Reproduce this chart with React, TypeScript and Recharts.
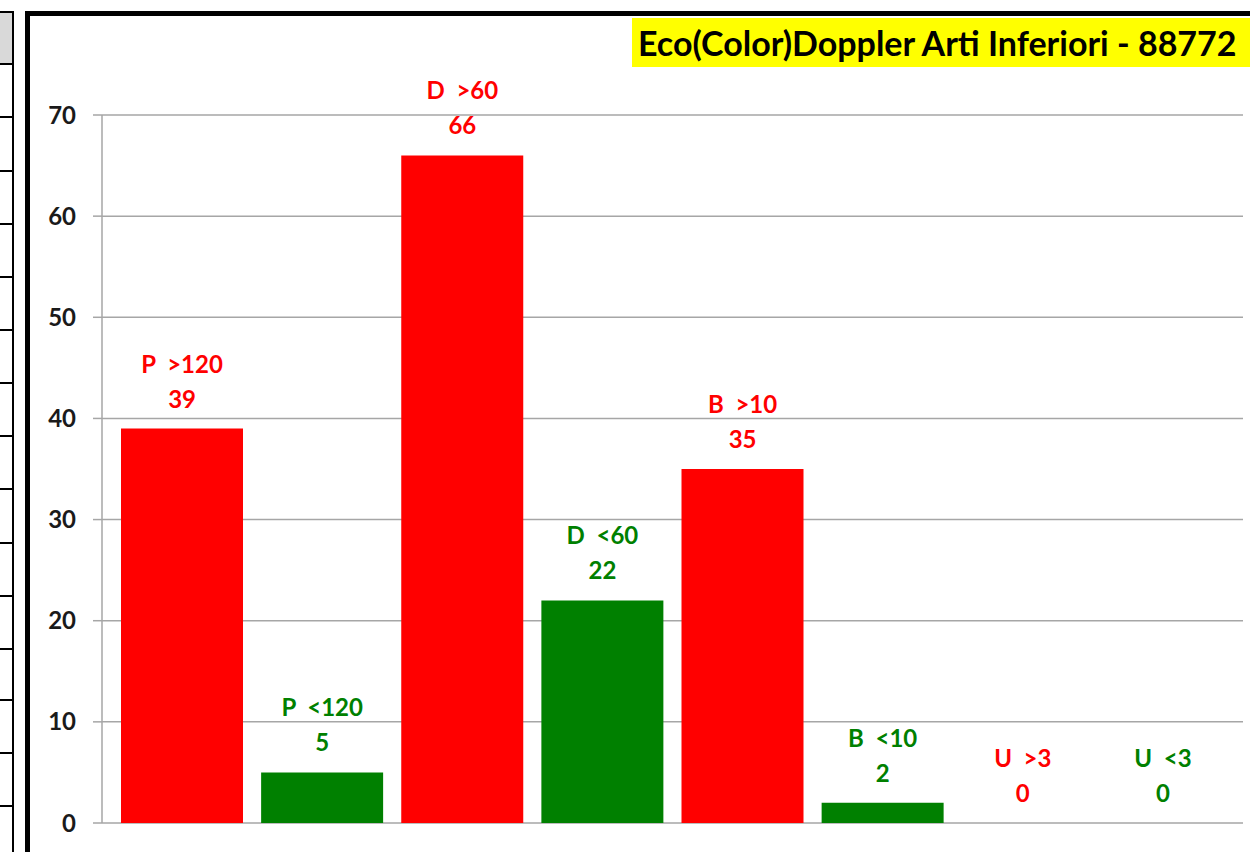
import { ComposedChart, Bar, Line, XAxis, YAxis, CartesianGrid, Cell, LabelList } from 'recharts';

const categories = ['P  >120', 'P  <120', 'D  >60', 'D  <60', 'B  >10', 'B  <10', 'U  >3', 'U  <3'];
const counts = [39, 5, 66, 22, 35, 2, 0, 0];
const overThreshold = [true, false, true, false, true, false, true, false];
const yTicks = [0, 10, 20, 30, 40, 50, 60, 70];
const title = 'Eco(Color)Doppler Arti Inferiori - 88772';

const RED = '#ff0000';
const GREEN = '#008000';
const FONT = 'Lato, "Open Sans", sans-serif';

const data = categories.map((name, i) => ({ name, value: counts[i], over: overThreshold[i] }));

// horizontal rules of the spreadsheet column peeking in on the left
const rowLines = [63, 116, 170, 223, 276, 329, 382, 435, 488, 542, 595, 648, 699, 752, 805];

// two-line label above each bar; drawn from an invisible line series so zero values get one too
const BarLabel = (props: any) => {
  const { x, y, index } = props;
  const d = data[index];
  if (!d) return null;
  const fill = d.over ? RED : GREEN;
  return (
    <g>
      <text x={x} y={Number(y) - 56} textAnchor="middle" fill={fill} fontSize={24} fontWeight={700} fontFamily={FONT} style={{ whiteSpace: 'pre' }}>
        {d.name}
      </text>
      <text x={x} y={Number(y) - 21} textAnchor="middle" fill={fill} fontSize={24} fontWeight={700} fontFamily={FONT}>
        {d.value}
      </text>
    </g>
  );
};

export default function App() {
  return (
    <div style={{ position: 'absolute', left: 0, top: 0, width: 1250, height: 852, overflow: 'hidden', background: '#fff' }}>
      {/* left spreadsheet strip */}
      <div style={{ position: 'absolute', left: 0, top: 11, width: 12, height: 845, borderTop: '2px solid #000', borderRight: '2px solid #000' }}>
        <div style={{ position: 'absolute', left: 0, top: 0, width: 12, height: 50, background: '#d9d9d9' }} />
        {rowLines.map((ly) => (
          <div key={ly} style={{ position: 'absolute', left: 0, top: ly - 13, width: 12, height: 2, background: '#000' }} />
        ))}
      </div>

      <div style={{ position: 'absolute', left: 0, top: 0 }}>
        <ComposedChart
          width={1250}
          height={852}
          data={data}
          margin={{ top: 115, right: 7, bottom: 29, left: 0 }}
        >
          <CartesianGrid horizontal vertical={false} stroke="#a6a6a6" strokeWidth={1.5} />
          <XAxis
            dataKey="name"
            tick={false}
            tickLine={false}
            axisLine={{ stroke: '#a6a6a6', strokeWidth: 1.5 }}
            height={0}
            padding={{ left: 10, right: 10 }}
          />
          <YAxis
            width={102}
            domain={[0, 70]}
            ticks={yTicks}
            interval={0}
            tickSize={9}
            tickMargin={17}
            axisLine={{ stroke: '#a6a6a6', strokeWidth: 1.5 }}
            tickLine={{ stroke: '#a6a6a6', strokeWidth: 1.5 }}
            tick={{ fill: '#1a1a1a', fontSize: 24, fontWeight: 700, fontFamily: FONT }}
          />
          <Bar dataKey="value" barSize={122} isAnimationActive={false}>
            {data.map((d, i) => (
              <Cell key={i} fill={d.over ? RED : GREEN} />
            ))}
          </Bar>
          <Line dataKey="value" stroke="none" dot={false} activeDot={false} isAnimationActive={false}>
            <LabelList dataKey="value" content={BarLabel} />
          </Line>
        </ComposedChart>
      </div>

      {/* chart frame */}
      <div style={{ position: 'absolute', left: 25, top: 11, width: 1260, height: 838, border: '5px solid #000', pointerEvents: 'none' }} />

      {/* title box */}
      <div
        style={{
          position: 'absolute',
          left: 632,
          top: 18,
          width: 640,
          height: 49,
          background: '#ffff00',
          fontFamily: FONT,
          fontWeight: 700,
          fontSize: 34,
          lineHeight: '49px',
          color: '#000',
          whiteSpace: 'nowrap',
          paddingLeft: 6,
          boxSizing: 'border-box',
        }}
      >
        {title}
      </div>
    </div>
  );
}
